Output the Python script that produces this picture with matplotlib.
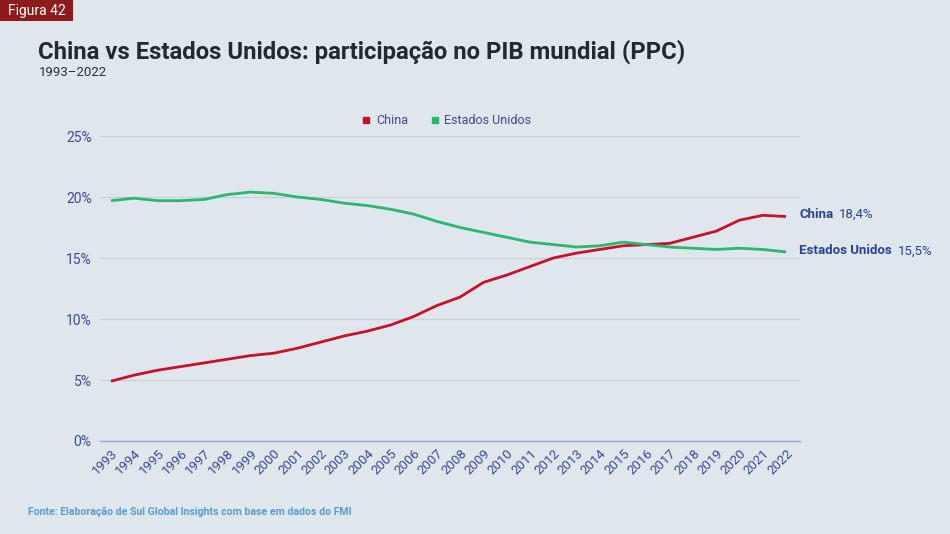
import matplotlib
matplotlib.use("Agg")
import matplotlib.pyplot as plt
from matplotlib.patches import Rectangle
from matplotlib.lines import Line2D

plt.rcParams['font.family'] = ['Roboto', 'DejaVu Sans']

years = list(range(1993, 2023))
china = [4.9, 5.4, 5.8, 6.1, 6.4, 6.7, 7.0, 7.2, 7.6, 8.1, 8.6, 9.0, 9.5, 10.2, 11.1,
         11.8, 13.0, 13.6, 14.3, 15.0, 15.4, 15.7, 16.0, 16.1, 16.2, 16.7, 17.2, 18.1, 18.5, 18.4]
usa = [19.7, 19.9, 19.7, 19.7, 19.8, 20.2, 20.4, 20.3, 20.0, 19.8, 19.5, 19.3, 19.0, 18.6, 18.0,
       17.5, 17.1, 16.7, 16.3, 16.1, 15.9, 16.0, 16.3, 16.1, 15.9, 15.8, 15.7, 15.8, 15.7, 15.5]
yticks = [0, 5, 10, 15, 20, 25]
ytick_labels = ["0%", "5%", "10%", "15%", "20%", "25%"]
series_names = ["China", "Estados Unidos"]
end_values = ["18,4%", "15,5%"]

BG = "#dfe7ec"
RED = "#c8102e"
GREEN = "#2cb673"
TICK = "#3d4b8e"
LABEL = "#2c4391"

fig = plt.figure(figsize=(9.5, 5.34), dpi=100)
fig.patch.set_facecolor(BG)
ax = fig.add_axes([100/950, 1-441/534, 700/950, (441-136)/534])
ax.set_facecolor(BG)

ax.plot(years, china, color=RED, lw=2, solid_capstyle='butt')
ax.plot(years, usa, color=GREEN, lw=2, solid_capstyle='butt')

ax.set_ylim(0, 25)
ax.set_xlim(1992.53, 2022.6)
ax.set_yticks(yticks)
ax.set_yticklabels(ytick_labels, color=TICK, fontsize=10)
ax.set_xticks(years)
ax.set_xticklabels([str(y) for y in years], rotation=45, ha='right', va='top',
                   rotation_mode='anchor', color=TICK, fontsize=9.5)
ax.tick_params(axis='both', length=0, pad=6)
ax.tick_params(axis='x', pad=4)
ax.grid(axis='y', color='#c7d1d8', lw=0.9)
ax.set_axisbelow(True)
for s in ['top', 'right', 'left']:
    ax.spines[s].set_visible(False)
ax.spines['bottom'].set_color('#9aa5d9')
ax.spines['bottom'].set_linewidth(1)

# end labels
fig.canvas.draw()
renderer = fig.canvas.get_renderer()
for name, val, ypix in zip(series_names, end_values, [214, 251]):
    t = fig.text(799/950, 1-ypix/534, name, color=LABEL, fontsize=9.5, fontweight='bold',
                 va='center', ha='left')
    bb = t.get_window_extent(renderer=renderer)
    fig.text((bb.x1 + 6)/950, 1-ypix/534, val, color=LABEL, fontsize=9.5, va='center', ha='left')

# legend
handles = [Line2D([], [], marker='s', color='none', markerfacecolor=RED, markeredgecolor=RED, markersize=5),
           Line2D([], [], marker='s', color='none', markerfacecolor=GREEN, markeredgecolor=GREEN, markersize=5)]
leg = fig.legend(handles, series_names, loc='center', bbox_to_anchor=(447/950, 1-121/534),
                 ncol=2, frameon=False, fontsize=9, handlelength=0.6, handletextpad=0.5,
                 columnspacing=1.8)
for t in leg.get_texts():
    t.set_color(TICK)

# title
fig.text(38/950, 1-52/534, "China vs Estados Unidos: participação no PIB mundial (PPC)",
         fontsize=17.2, fontweight='bold', color='#1f2b30', va='center', ha='left')
fig.text(39/950, 1-73/534, "1993–2022", fontsize=9.5, color='#2a3236', va='center', ha='left')

# figure badge
fig.patches.append(Rectangle((0, 1-21/534), 73/950, 21/534, transform=fig.transFigure,
                             facecolor='#8e1b1b', edgecolor='none'))
fig.text(37/950, 1-10.5/534, "Figura 42", fontsize=10, color='white', va='center', ha='center')

# source
fig.text(28/950, 1-512/534, "Fonte: Elaboração de Sul Global Insights com base em dados do FMI",
         fontsize=7.6, fontweight='bold', color='#5b9bd8', va='center', ha='left')

fig.savefig("out.png", dpi=100, facecolor=BG)
